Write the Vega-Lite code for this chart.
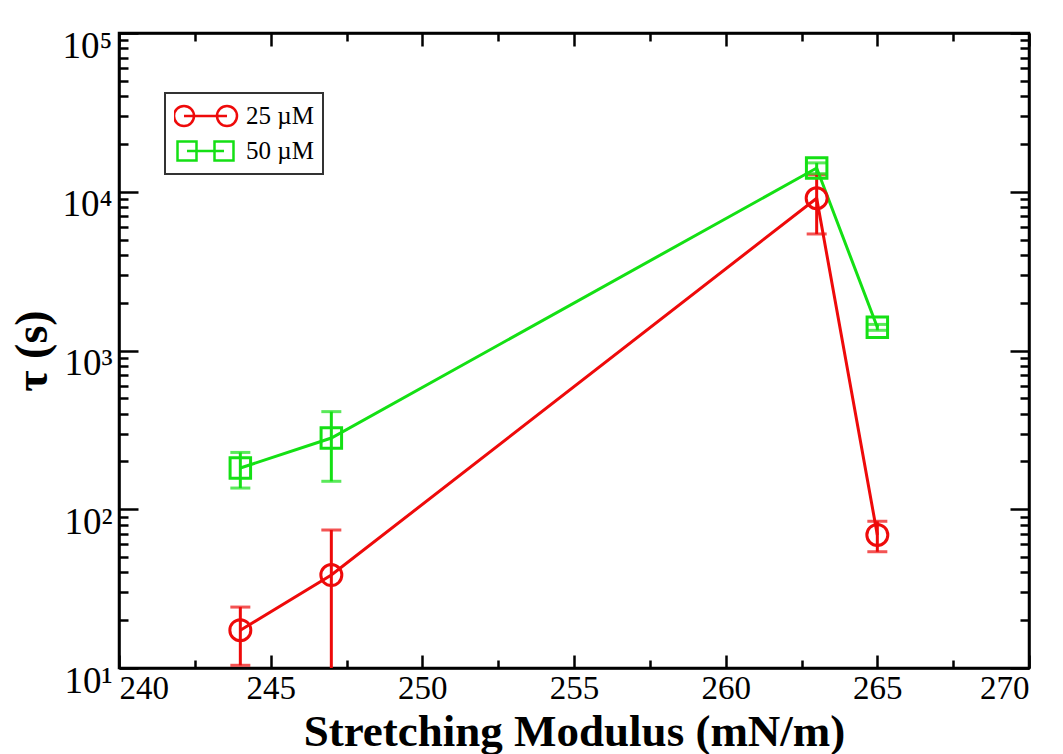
{
  "$schema": "https://vega.github.io/schema/vega-lite/v6.json",
  "autosize": {"type": "none"},
  "padding": {"left": 119, "top": 33, "right": 34, "bottom": 86},
  "width": 910,
  "height": 635,
  "background": "white",
  "data": {
    "values": [
      {"series": "25 µM", "modulus": 244, "tau": 17.3, "lo": 10.4, "hi": 24.2},
      {"series": "25 µM", "modulus": 247, "tau": 38.5, "lo": 3, "hi": 74},
      {"series": "25 µM", "modulus": 263, "tau": 9100, "lo": 5420, "hi": 12780},
      {"series": "25 µM", "modulus": 265, "tau": 68.9, "lo": 54, "hi": 84},
      {"series": "50 µM", "modulus": 244, "tau": 182, "lo": 136, "hi": 228},
      {"series": "50 µM", "modulus": 247, "tau": 281, "lo": 150, "hi": 412},
      {"series": "50 µM", "modulus": 263, "tau": 14100, "lo": 13000, "hi": 15200},
      {"series": "50 µM", "modulus": 265, "tau": 1400, "lo": 1340, "hi": 1460}
    ]
  },
  "resolve": {"axis": {"x": "independent", "y": "independent"}},
  "layer": [
    {
      "mark": {"type": "rule", "strokeWidth": 3, "clip": true},
      "encoding": {
        "x": {
          "field": "modulus", "type": "quantitative",
          "scale": {"domain": [240, 270], "nice": false, "zero": false},
          "axis": {
            "orient": "bottom", "values": [240, 245, 250, 255, 260, 265, 270],
            "ticks": false, "domain": true, "labelFontSize": 33, "labelPadding": 4,
            "title": "Stretching Modulus (mN/m)", "titleFontSize": 45, "titleFontWeight": "bold", "titlePadding": 4
          }
        },
        "y": {
          "field": "lo", "type": "quantitative",
          "scale": {"type": "log", "domain": [10, 100000], "nice": false},
          "axis": {
            "orient": "left", "values": [10, 100, 1000, 10000, 100000],
            "ticks": false, "domain": true, "labelFontSize": 37, "labelPadding": 7, "labelOffset": 13,
            "labelExpr": "'10' + ['⁰','¹','²','³','⁴','⁵'][round(log(datum.value) / LN10)]",
            "title": "τ (s)", "titleFontSize": 46, "titleFontWeight": "bold", "titlePadding": 6
          }
        },
        "y2": {"field": "hi"},
        "color": {
          "field": "series", "type": "nominal",
          "scale": {"domain": ["25 µM", "50 µM"], "range": ["#ee0a0a", "#14e014"]},
          "legend": {
            "encode": {
              "symbols": {
                "update": {
                  "shape": {"signal": "datum.value == '25 µM' ? 'M-1.05,0 a0.333,0.333 0 1,0 0.667,0 a0.333,0.333 0 1,0 -0.667,0 M0.383,0 a0.333,0.333 0 1,0 0.667,0 a0.333,0.333 0 1,0 -0.667,0 M-0.717,0 L0.717,0' : 'M-0.933,-0.317 h0.633 v0.633 h-0.633 Z M0.3,-0.317 h0.633 v0.633 h-0.633 Z M-0.617,0 L0.617,0'"},
                  "size": {"value": 3600},
                  "fill": {"value": "transparent"},
                  "fillOpacity": {"value": 0},
                  "stroke": {"signal": "datum.value == '25 µM' ? '#ee0a0a' : '#14e014'"},
                  "strokeOpacity": {"value": 1},
                  "opacity": {"value": 1},
                  "strokeWidth": {"value": 2.5}
                }
              }
            }
          }
        }
      }
    },
    {
      "mark": {"type": "tick", "orient": "horizontal", "size": 20, "thickness": 3, "clip": true},
      "encoding": {
        "x": {
          "field": "modulus", "type": "quantitative",
          "scale": {"domain": [240, 270], "nice": false, "zero": false},
          "axis": {"orient": "bottom", "values": [240, 245, 250, 255, 260, 265, 270], "labels": false, "domain": false, "tickSize": -13, "title": null}
        },
        "y": {
          "field": "hi", "type": "quantitative",
          "scale": {"type": "log", "domain": [10, 100000], "nice": false},
          "axis": {"orient": "left", "values": [10, 100, 1000, 10000, 100000], "labels": false, "domain": false, "tickSize": -19, "title": null}
        },
        "color": {"field": "series", "type": "nominal"}
      }
    },
    {
      "mark": {"type": "tick", "orient": "horizontal", "size": 20, "thickness": 3, "clip": true},
      "encoding": {
        "x": {
          "field": "modulus", "type": "quantitative",
          "scale": {"domain": [240, 270], "nice": false, "zero": false},
          "axis": {"orient": "bottom", "values": [242.5, 247.5, 252.5, 257.5, 262.5, 267.5], "labels": false, "domain": false, "tickSize": -8, "title": null}
        },
        "y": {
          "field": "lo", "type": "quantitative",
          "scale": {"type": "log", "domain": [10, 100000], "nice": false},
          "axis": {
            "orient": "left",
            "values": [20, 30, 40, 50, 60, 70, 80, 90, 200, 300, 400, 500, 600, 700, 800, 900, 2000, 3000, 4000, 5000, 6000, 7000, 8000, 9000, 20000, 30000, 40000, 50000, 60000, 70000, 80000, 90000],
            "labels": false, "domain": false, "tickSize": -9, "title": null
          }
        },
        "color": {"field": "series", "type": "nominal"}
      }
    },
    {
      "mark": {"type": "line", "strokeWidth": 3},
      "encoding": {
        "x": {
          "field": "modulus", "type": "quantitative",
          "scale": {"domain": [240, 270], "nice": false, "zero": false},
          "axis": {"orient": "top", "values": [240, 245, 250, 255, 260, 265, 270], "labels": false, "domain": true, "tickSize": -13, "title": null}
        },
        "y": {
          "field": "tau", "type": "quantitative",
          "scale": {"type": "log", "domain": [10, 100000], "nice": false},
          "axis": {"orient": "right", "values": [10, 100, 1000, 10000, 100000], "labels": false, "domain": true, "tickSize": -19, "title": null}
        },
        "color": {"field": "series", "type": "nominal"}
      }
    },
    {
      "transform": [{"filter": "datum.series == '25 µM'"}],
      "mark": {"type": "point", "shape": "circle", "filled": false, "strokeWidth": 3, "size": 440, "opacity": 1},
      "encoding": {
        "x": {
          "field": "modulus", "type": "quantitative",
          "scale": {"domain": [240, 270], "nice": false, "zero": false},
          "axis": {"orient": "top", "values": [242.5, 247.5, 252.5, 257.5, 262.5, 267.5], "labels": false, "domain": false, "tickSize": -8, "title": null}
        },
        "y": {
          "field": "tau", "type": "quantitative",
          "scale": {"type": "log", "domain": [10, 100000], "nice": false},
          "axis": {
            "orient": "right",
            "values": [20, 30, 40, 50, 60, 70, 80, 90, 200, 300, 400, 500, 600, 700, 800, 900, 2000, 3000, 4000, 5000, 6000, 7000, 8000, 9000, 20000, 30000, 40000, 50000, 60000, 70000, 80000, 90000],
            "labels": false, "domain": false, "tickSize": -9, "title": null
          }
        },
        "color": {"field": "series", "type": "nominal"}
      }
    },
    {
      "transform": [{"filter": "datum.series == '50 µM'"}],
      "mark": {"type": "point", "shape": "square", "filled": false, "strokeWidth": 3, "size": 420, "opacity": 1},
      "encoding": {
        "x": {
          "field": "modulus", "type": "quantitative",
          "scale": {"domain": [240, 270], "nice": false, "zero": false},
          "axis": null
        },
        "y": {
          "field": "tau", "type": "quantitative",
          "scale": {"type": "log", "domain": [10, 100000], "nice": false},
          "axis": null
        },
        "color": {"field": "series", "type": "nominal"}
      }
    }
  ],
  "config": {
    "view": {"stroke": "black", "strokeWidth": 2.5},
    "axis": {
      "grid": false,
      "domainColor": "black",
      "domainWidth": 2.5,
      "tickColor": "black",
      "tickWidth": 2.5,
      "labelFont": "Liberation Serif",
      "titleFont": "Liberation Serif",
      "labelColor": "black",
      "titleColor": "black"
    },
    "legend": {
      "title": null,
      "orient": "none",
      "legendX": 46,
      "legendY": 60,
      "padding": 9,
      "strokeColor": "#333333",
      "strokeWidth": 2,
      "fillColor": "white",
      "symbolSize": 3600,
      "clipHeight": 28,
      "rowPadding": 7,
      "labelOffset": 9,
      "labelFont": "Liberation Serif",
      "labelFontSize": 25,
      "labelColor": "black",
      "symbolStrokeWidth": 2.5,
      "symbolFillColor": "transparent"
    }
  }
}
